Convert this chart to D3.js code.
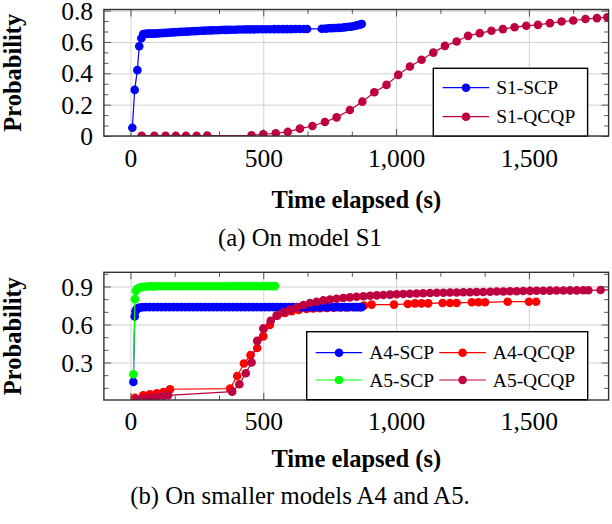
<!DOCTYPE html>
<html>
<head>
<meta charset="utf-8">
<script src="https://cdn.jsdelivr.net/npm/d3@7"></script>
<style>
body { margin: 0; background: #fff; }
svg text { font-family: "Liberation Serif", Tinos, "DejaVu Serif", serif; }
</style>
</head>
<body>
<svg id="fig" width="612" height="524"></svg>
<script>
// ---- data: [time (s), probability] ----
const s1Scp = [
  [7,0.053],[16,0.294],[26,0.420],[33,0.573],[41,0.624],[48,0.650],
  [56,0.652],[64,0.653],[72,0.653],[80,0.653],[88,0.653],[96,0.654],
  [105,0.655],[114,0.656],[123,0.657],[132,0.658],[141,0.659],[150,0.660],
  [160,0.661],[170,0.662],[180,0.663],[190,0.664],[200,0.665],
  [211,0.666],[222,0.667],[233,0.668],[244,0.669],[255,0.670],
  [267,0.671],[279,0.672],[291,0.673],[303,0.674],[315,0.675],
  [328,0.675],[341,0.676],[354,0.677],[367,0.677],[380,0.678],
  [394,0.678],[408,0.679],[422,0.679],[436,0.680],[450,0.680],
  [465,0.680],[480,0.681],[495,0.681],[510,0.681],[525,0.681],
  [541,0.682],[557,0.682],[573,0.682],[589,0.682],[605,0.682],
  [621,0.683],[637,0.683],[653,0.683],[665,0.683],
  [720,0.684],[735,0.685],[748,0.687],[760,0.688],[772,0.689],[783,0.690],
  [794,0.691],[805,0.693],[815,0.695],[825,0.697],[834,0.699],[843,0.702],
  [851,0.705],[858,0.708],[865,0.711],[871,0.714]
];
const s1Qcqp = [
  [42,0.002],[90,0.002],[132,0.002],[171,0.002],[209,0.002],[249,0.002],[289,0.003],
  [456,0.004],[500,0.011],[547,0.017],[592,0.026],[638,0.047],[685,0.064],[732,0.089],
  [776,0.119],[826,0.166],[873,0.219],[918,0.279],[964,0.326],[1008,0.390],[1052,0.443],
  [1096,0.486],[1140,0.532],[1184,0.575],[1228,0.603],[1271,0.639],[1315,0.656],
  [1359,0.671],[1402,0.682],[1446,0.694],[1490,0.703],[1534,0.709],[1579,0.720],
  [1623,0.730],[1667,0.737],[1713,0.746],[1756,0.752],[1795,0.758]
];
const a4Scp = [
  [11,0.147],[16,0.664],[19,0.705],[22,0.718],[26,0.726],[31,0.731],[37,0.734],[45,0.736],
  [57,0.737],[72,0.737],[87,0.737],[102,0.737],[117,0.737],[132,0.737],[147,0.737],
  [162,0.737],[177,0.737],[192,0.737],[207,0.737],[222,0.737],[237,0.737],[252,0.737],
  [267,0.737],[282,0.737],[297,0.737],[312,0.737],[327,0.737],[342,0.737],[357,0.737],
  [372,0.737],[387,0.737],[402,0.737],[417,0.737],[432,0.737],[447,0.737],[462,0.737],
  [477,0.737],[492,0.737],[507,0.737],[522,0.737],[537,0.737],[552,0.737],[567,0.737],
  [582,0.737],[597,0.737],[612,0.737],[627,0.737],[642,0.737],[657,0.737],[672,0.737],
  [687,0.737],[702,0.737],[717,0.737],[732,0.737],[747,0.737],[762,0.737],[777,0.737],
  [792,0.737],[807,0.737],[822,0.737],[837,0.737],[852,0.737],[863,0.737],[870,0.737]
];
const a4Qcqp = [
  [17,0.022],[48,0.041],[73,0.049],[99,0.057],[124,0.067],[149,0.089],
  [375,0.094],[402,0.194],[427,0.292],[452,0.358],[477,0.414],[500,0.506],[525,0.596],
  [553,0.670],[582,0.692],[607,0.705],[634,0.715],[663,0.722],[688,0.726],[713,0.729],
  [739,0.731],[765,0.733],[790,0.734],[815,0.735],[845,0.737],[879,0.749],[908,0.757],
  [992,0.757],[1044,0.762],[1071,0.767],[1096,0.767],[1121,0.767],[1175,0.770],
  [1203,0.770],[1228,0.770],[1285,0.775],[1310,0.775],[1335,0.775],[1420,0.780],
  [1500,0.780],[1527,0.780]
];
const a5Scp = [
  [11,0.207],[17,0.800],[20,0.865],[24,0.878],[29,0.886],[35,0.891],[43,0.895],[53,0.898],
  [65,0.900],[77,0.901],[89,0.901],[101,0.902],[115,0.902],[130,0.902],[145,0.902],
  [160,0.902],[175,0.902],[190,0.902],[205,0.902],[220,0.902],[235,0.902],[250,0.902],
  [265,0.902],[280,0.902],[295,0.902],[310,0.902],[325,0.902],[340,0.902],[355,0.902],
  [370,0.902],[385,0.903],[400,0.903],[415,0.903],[430,0.903],[445,0.903],[460,0.903],
  [475,0.903],[490,0.903],[505,0.903],[520,0.903],[533,0.903],[544,0.903]
];
const a5Qcqp = [
  [23,0.010],[48,0.014],[73,0.022],[99,0.028],[124,0.036],[142,0.041],
  [383,0.070],[410,0.128],[434,0.215],[456,0.300],[477,0.471],[500,0.569],[528,0.630],
  [550,0.670],[575,0.696],[600,0.717],[626,0.735],[651,0.754],[676,0.770],[701,0.780],
  [726,0.790],[751,0.797],[776,0.803],[801,0.809],[826,0.814],[851,0.819],[877,0.823],
  [902,0.827],[927,0.830],[952,0.833],[977,0.836],[1002,0.839],[1027,0.841],[1052,0.843],
  [1077,0.845],[1102,0.847],[1128,0.849],[1153,0.850],[1178,0.851],[1203,0.852],
  [1228,0.853],[1253,0.854],[1278,0.855],[1303,0.856],[1328,0.857],[1354,0.858],
  [1379,0.860],[1404,0.861],[1429,0.862],[1454,0.863],[1479,0.864],[1504,0.865],
  [1529,0.866],[1554,0.866],[1579,0.867],[1604,0.868],[1630,0.868],[1655,0.869],
  [1680,0.869],[1705,0.870],[1724,0.870],[1770,0.872],[1815,0.873]
];

// ---- ticks ----
const xTicks = [0, 500, 1000, 1500];
const xMinorTicks = [166.7, 333.3, 666.7, 833.3, 1166.7, 1333.3, 1666.7];
const yTicksS1 = [0, 0.2, 0.4, 0.6, 0.8];
const yMinorS1 = [0.0667, 0.1333, 0.2667, 0.3333, 0.4667, 0.5333, 0.6667, 0.7333];
const yTicksA = [0.3, 0.6, 0.9];
const yMinorA = [0.1, 0.2, 0.4, 0.5, 0.7, 0.8, 1.0];

const BLUE = '#0000ff', RED = '#ff0000', GREEN = '#00ff00', PURPLE = 'rgb(191,0,64)';
const SERIF = '"Liberation Serif", Tinos, "DejaVu Serif", serif';

class LineChart {

    constructor(config, series) {
        this.config = config;
        this.series = series;
        this.init();
        this.render();
    }

    init() {
        let self = this;
        let c = self.config;

        self.svg = d3.select(c.parent);
        self.chart = self.svg.append('g')
            .attr('transform', `translate(${c.left}, ${c.top})`);

        self.inner_width = c.right - c.left;
        self.inner_height = c.bottom - c.top;

        self.xscale = d3.scaleLinear()
            .domain(c.xdomain)
            .range([0, self.inner_width]);

        self.yscale = d3.scaleLinear()
            .domain(c.ydomain)
            .range([self.inner_height, 0]);
    }

    render() {
        let self = this;
        let c = self.config;
        let w = self.inner_width, h = self.inner_height;
        let x = self.xscale, y = self.yscale;

        // grid
        self.chart.append('g')
            .attr('transform', `translate(0, ${h})`)
            .call(d3.axisBottom(x).tickValues(c.xticks).tickSize(-h).tickFormat(''))
            .call(g => g.select('.domain').remove())
            .selectAll('line').attr('stroke', '#d2d2d2').attr('stroke-width', 1);
        self.chart.append('g')
            .call(d3.axisLeft(y).tickValues(c.yticks).tickSize(-w).tickFormat(''))
            .call(g => g.select('.domain').remove())
            .selectAll('line').attr('stroke', '#d2d2d2').attr('stroke-width', 1);

        // plots
        self.svg.append('defs').append('clipPath').attr('id', c.id + '-clip')
            .append('rect').attr('width', w).attr('height', h);
        let plots = self.chart.append('g').attr('clip-path', `url(#${c.id}-clip)`);
        let line = d3.line().x(d => x(d[0])).y(d => y(d[1]));
        self.series.forEach(s => {
            plots.append('path')
                .attr('d', line(s.data))
                .attr('fill', 'none')
                .attr('stroke', s.color)
                .attr('stroke-width', 1.2);
            plots.selectAll(null)
                .data(s.data).enter()
                .append('circle')
                .attr('cx', d => x(d[0]))
                .attr('cy', d => y(d[1]))
                .attr('r', 4.3)
                .attr('fill', s.color);
        });

        // inner tick marks on all four sides
        let tickStyle = g => {
            g.select('.domain').remove();
            g.selectAll('line').attr('stroke', '#444').attr('stroke-width', 0.9);
        };
        [[c.xticks, 7], [c.xminor, 4.5]].forEach(([vals, len]) => {
            self.chart.append('g').attr('transform', `translate(0, ${h})`)
                .call(d3.axisBottom(x).tickValues(vals).tickSize(-len).tickFormat('')).call(tickStyle);
            self.chart.append('g')
                .call(d3.axisTop(x).tickValues(vals).tickSize(-len).tickFormat('')).call(tickStyle);
        });
        [[c.yticks, 7], [c.yminor, 4.5]].forEach(([vals, len]) => {
            self.chart.append('g')
                .call(d3.axisLeft(y).tickValues(vals).tickSize(-len).tickFormat('')).call(tickStyle);
            self.chart.append('g').attr('transform', `translate(${w}, 0)`)
                .call(d3.axisRight(y).tickValues(vals).tickSize(-len).tickFormat('')).call(tickStyle);
        });

        // tick labels
        self.chart.append('g').attr('transform', `translate(0, ${h})`)
            .call(d3.axisBottom(x).tickValues(c.xticks).tickSize(0).tickFormat(d3.format(',')))
            .attr('font-family', SERIF).attr('font-size', '25.5px')
            .call(g => g.select('.domain').remove())
            .selectAll('text')
            .attr('y', c.xtick_offset).attr('dy', null)
            .attr('fill', '#000');
        self.chart.append('g')
            .call(d3.axisLeft(y).tickValues(c.yticks).tickSize(0).tickFormat(d3.format('')))
            .attr('font-family', SERIF).attr('font-size', '25.5px')
            .call(g => g.select('.domain').remove())
            .selectAll('text')
            .attr('x', -10.8).attr('dy', '0.34em')
            .attr('fill', '#000');

        // frame
        self.chart.append('rect')
            .attr('width', w).attr('height', h)
            .attr('fill', 'none').attr('stroke', '#333').attr('stroke-width', 1.4);

        // axis titles and caption
        self.svg.append('text')
            .attr('x', c.left + w / 2)
            .attr('y', c.xlabel_y)
            .attr('font-family', SERIF)
            .attr('font-size', '24.5px')
            .attr('font-weight', 'bold')
            .attr('text-anchor', 'middle')
            .text(c.xlabel);

        self.svg.append('text')
            .attr('transform', `translate(20.5, ${c.top + h / 2}) rotate(-90)`)
            .attr('font-family', SERIF)
            .attr('font-size', '24.5px')
            .attr('font-weight', 'bold')
            .attr('text-anchor', 'middle')
            .text(c.ylabel);

        self.svg.append('text')
            .attr('x', 300)
            .attr('y', c.caption_y)
            .attr('font-family', SERIF)
            .attr('font-size', '24.7px')
            .attr('text-anchor', 'middle')
            .text(c.caption);

        // legend
        let lg = c.legend;
        let legend = self.svg.append('g');
        legend.append('rect')
            .attr('x', lg.box[0]).attr('y', lg.box[1])
            .attr('width', lg.box[2]).attr('height', lg.box[3])
            .attr('fill', '#fff').attr('stroke', '#000').attr('stroke-width', 1.4);
        lg.items.forEach(it => {
            let s = self.series.find(d => d.name === it.name);
            legend.append('line')
                .attr('x1', it.x).attr('x2', it.x + 46.5)
                .attr('y1', it.y).attr('y2', it.y)
                .attr('stroke', s.color).attr('stroke-width', 1.2);
            legend.append('circle')
                .attr('cx', it.x + 23.3).attr('cy', it.y).attr('r', 4.3)
                .attr('fill', s.color);
            legend.append('text')
                .attr('x', it.x + 53.5).attr('y', it.y)
                .attr('dy', '0.34em')
                .attr('font-family', SERIF)
                .attr('font-size', '19.5px')
                .text(s.name);
        });
    }
}

new LineChart({
    parent: '#fig', id: 's1',
    left: 103.9, right: 608.6, top: 9.5, bottom: 136,
    xdomain: [-100, 1800], ydomain: [0, 0.807],
    xticks: xTicks, xminor: xMinorTicks, yticks: yTicksS1, yminor: yMinorS1,
    xtick_offset: 30.5, xlabel_y: 208, caption_y: 246,
    xlabel: 'Time elapsed (s)', ylabel: 'Probability', caption: '(a) On model S1',
    legend: {
        box: [433.3, 68.3, 154.3, 67.7],
        items: [
            { name: 'S1-SCP', x: 442.7, y: 87.7 },
            { name: 'S1-QCQP', x: 442.7, y: 116.7 }
        ]
    }
}, [
    { name: 'S1-SCP', data: s1Scp, color: BLUE },
    { name: 'S1-QCQP', data: s1Qcqp, color: PURPLE }
]);

new LineChart({
    parent: '#fig', id: 'a45',
    left: 103.9, right: 608.6, top: 272.3, bottom: 400,
    xdomain: [-100, 1800], ydomain: [0.004, 1.012],
    xticks: xTicks, xminor: xMinorTicks, yticks: yTicksA, yminor: yMinorA,
    xtick_offset: 29.5, xlabel_y: 467, caption_y: 504,
    xlabel: 'Time elapsed (s)', ylabel: 'Probability', caption: '(b) On smaller models A4 and A5.',
    legend: {
        box: [306.7, 331.7, 281, 68],
        items: [
            { name: 'A4-SCP', x: 315.7, y: 352.7 },
            { name: 'A4-QCQP', x: 439.3, y: 352.7 },
            { name: 'A5-SCP', x: 315.7, y: 380 },
            { name: 'A5-QCQP', x: 439.3, y: 380 }
        ]
    }
}, [
    { name: 'A4-QCQP', data: a4Qcqp, color: RED },
    { name: 'A4-SCP', data: a4Scp, color: BLUE },
    { name: 'A5-SCP', data: a5Scp, color: GREEN },
    { name: 'A5-QCQP', data: a5Qcqp, color: PURPLE }
]);
</script>
</body>
</html>
